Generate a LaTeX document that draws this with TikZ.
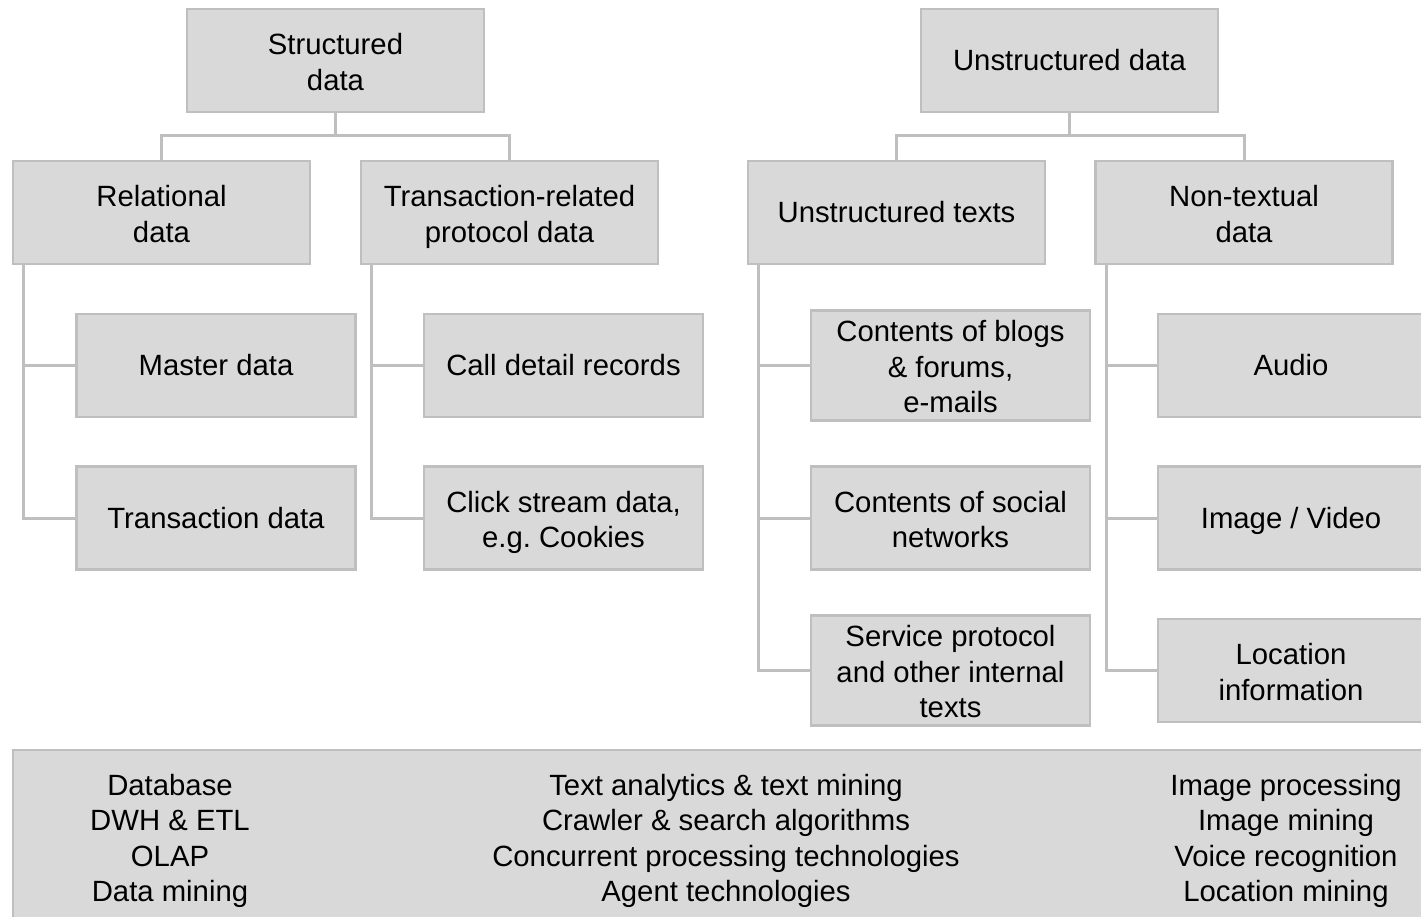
\documentclass[tikz,border=0pt]{standalone}
\usepackage{fontspec}
\setmainfont{Liberation Sans}
\definecolor{bg}{HTML}{D9D9D9}
\definecolor{bd}{HTML}{BFBFBF}
\newcommand\mystrut{\rule{0pt}{32pt}}
\newcommand\mystrutc{\rule{0pt}{31pt}}
\begin{document}
\begin{tikzpicture}[x=1pt,y=-1pt,
  box/.style={draw=bd, fill=bg, line width=2.5pt, inner sep=0pt, align=center,
    font=\fontsize{29.3}{35.5}\selectfont},
  struts/.style={execute at begin node={\rule{0pt}{27.9pt}},
    execute at end node={\rule[-7.6pt]{0pt}{7.6pt}}},
  top/.style={box, struts, minimum width=297pt, minimum height=103pt},
  leaf/.style={box, struts, minimum width=279pt, minimum height=103pt},
  conn/.style={draw=bd, line width=3pt},
  txt/.style={align=center, inner sep=0pt, font=\fontsize{29.3}{35.5}\selectfont}]
\useasboundingbox (0,0) rectangle (1421,917);
% level 0
\node[top] (sd) at (335.5,60.5) {\mystrut Structured\\data};
\node[top] (ud) at (1069.5,60.5) {Unstructured data};
% level 1
\node[top] (rd) at (161.5,212.5) {\mystrut Relational\\data};
\node[top] (tr) at (509.5,212.5) {\mystrut Transaction-related\\protocol data};
\node[top] (ut) at (896.5,212.5) {Unstructured texts};
\node[top] (nt) at (1244,212.5) {\mystrut Non-textual\\data};
% leaves
\node[leaf] (md) at (216,365.5) {Master data};
\node[leaf] (td) at (216,518) {Transaction data};
\node[leaf] (cd) at (563.5,365.5) {Call detail records};
\node[leaf] (cs) at (563.5,518) {\mystrut Click stream data,\\e.g.\ Cookies};
\node[leaf] (cb) at (950.5,365.5) {\mystrutc Contents of blogs\\\& forums,\\e-mails};
\node[leaf] (cn) at (950.5,518) {\mystrut Contents of social\\networks};
\node[leaf] (sp) at (950.5,670.5) {\mystrutc Service protocol\\and other internal\\texts};
\node[leaf, minimum width=266pt] (au) at (1291,365.5) {Audio};
\node[leaf, minimum width=266pt] (iv) at (1291,518) {Image / Video};
\node[leaf, minimum width=266pt] (li) at (1291,670.5) {\mystrut Location\\information};
% connectors
\coordinate (j1) at (335.5,136);
\coordinate (j2) at (1069.5,136);
\draw[conn] (sd.south) -- (j1) -| (rd.north);
\draw[conn] (j1) -| (tr.north);
\draw[conn] (ud.south) -- (j2) -| (ut.north);
\draw[conn] (j2) -| (nt.north);
\draw[conn] ([xshift=12pt]rd.south west) |- (md.west);
\draw[conn] ([xshift=12pt]rd.south west) |- (td.west);
\draw[conn] ([xshift=12pt]tr.south west) |- (cd.west);
\draw[conn] ([xshift=12pt]tr.south west) |- (cs.west);
\draw[conn] ([xshift=12pt]ut.south west) |- (cb.west);
\draw[conn] ([xshift=12pt]ut.south west) |- (cn.west);
\draw[conn] ([xshift=12pt]ut.south west) |- (sp.west);
\draw[conn] ([xshift=12pt]nt.south west) |- (au.west);
\draw[conn] ([xshift=12pt]nt.south west) |- (iv.west);
\draw[conn] ([xshift=12pt]nt.south west) |- (li.west);
% bottom
\node[box, minimum width=1434pt, minimum height=180pt] (tech) at (730,840) {};
\node[txt] (t1) at (170,841) {Database\\DWH \& ETL\\OLAP\\Data mining};
\node[txt] (t2) at (726,841) {Text analytics \& text mining\\Crawler \& search algorithms\\Concurrent processing technologies\\Agent technologies};
\node[txt] (t3) at (1286,841) {Image processing\\Image mining\\Voice recognition\\Location mining};
\end{tikzpicture}
\end{document}
